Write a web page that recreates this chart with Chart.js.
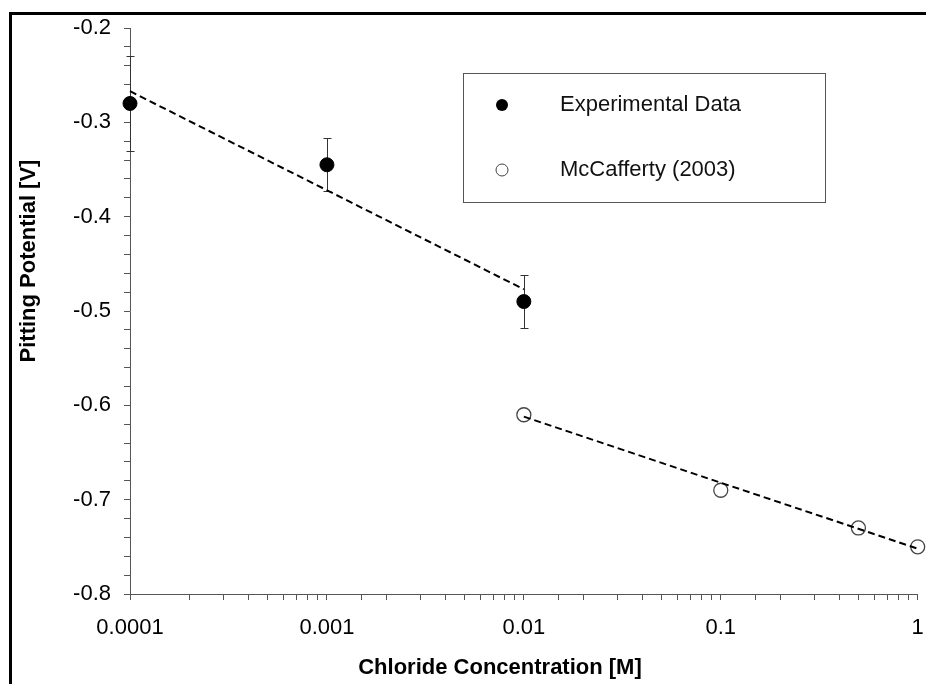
<!DOCTYPE html>
<html>
<head>
<meta charset="utf-8">
<script src="https://cdn.jsdelivr.net/npm/chart.js@4.4.1/dist/chart.umd.min.js"></script>
<style>
  html, body { margin: 0; padding: 0; background: #fff; }
  #grafico { display: block; }
</style>
</head>
<body>
<canvas id="grafico" width="926" height="684"></canvas>
<script>
// === DATOS ===
const concExperimental = [0.0001, 0.001, 0.01];
const potExperimental = [-0.28, -0.345, -0.49];
const errorExperimental = [0.05, 0.028, 0.028];

const concMcCafferty = [0.01, 0.1, 0.5, 1];
const potMcCafferty = [-0.61, -0.69, -0.73, -0.75];

// líneas de tendencia (extremos)
const tendExpX = [0.0001, 0.01];
const tendExpY = [-0.267, -0.477];
const tendMcX = [0.01, 1];
const tendMcY = [-0.612, -0.752];

const etiquetas = ['Experimental Data', 'McCafferty (2003)'];
const tituloX = 'Chloride Concentration [M]';
const tituloY = 'Pitting Potential [V]';

const FUENTE = "'Liberation Sans', Arial, sans-serif";
const GRIS = '#555';

const puntos = (xs, ys) => xs.map((x, i) => ({ x, y: ys[i] }));

// barras de error verticales para la serie experimental
const barrasError = {
  id: 'barrasError',
  beforeDatasetsDraw(chart) {
    const { ctx, scales: { x, y } } = chart;
    ctx.save();
    ctx.strokeStyle = '#333';
    ctx.lineWidth = 1;
    concExperimental.forEach((c, i) => {
      const px = Math.round(x.getPixelForValue(c)) + 0.5;
      const arriba = y.getPixelForValue(potExperimental[i] + errorExperimental[i]);
      const abajo = y.getPixelForValue(potExperimental[i] - errorExperimental[i]);
      ctx.beginPath();
      ctx.moveTo(px, arriba);
      ctx.lineTo(px, abajo);
      ctx.moveTo(px - 4, Math.round(arriba) + 0.5);
      ctx.lineTo(px + 4, Math.round(arriba) + 0.5);
      ctx.moveTo(px - 4, Math.round(abajo) + 0.5);
      ctx.lineTo(px + 4, Math.round(abajo) + 0.5);
      ctx.stroke();
    });
    ctx.restore();
  }
};

// leyenda dentro del área de trazado, títulos de ejes y marco exterior
const leyenda = {
  id: 'leyenda',
  afterDraw(chart) {
    const { ctx } = chart;
    ctx.save();
    ctx.fillStyle = '#fff';
    ctx.fillRect(463.5, 73.5, 362, 129);
    ctx.strokeStyle = GRIS;
    ctx.lineWidth = 1;
    ctx.strokeRect(463.5, 73.5, 362, 129);

    ctx.beginPath();
    ctx.arc(502, 105, 6, 0, Math.PI * 2);
    ctx.fillStyle = '#000';
    ctx.fill();

    ctx.beginPath();
    ctx.arc(502, 170, 6, 0, Math.PI * 2);
    ctx.strokeStyle = '#444';
    ctx.stroke();

    ctx.font = `22px ${FUENTE}`;
    ctx.fillStyle = '#111';
    ctx.textBaseline = 'middle';
    ctx.fillText(etiquetas[0], 560, 105);
    ctx.fillText(etiquetas[1], 560, 170);

    ctx.font = `bold 22px ${FUENTE}`;
    ctx.fillStyle = '#000';
    ctx.textAlign = 'center';
    ctx.fillText(tituloX, 500, 668);

    ctx.translate(29, 261);
    ctx.rotate(-Math.PI / 2);
    ctx.fillText(tituloY, 0, 0);
    ctx.restore();

    ctx.save();
    ctx.strokeStyle = '#000';
    ctx.lineWidth = 3;
    ctx.strokeRect(10.5, 13.5, 940, 700);
    ctx.restore();
  }
};

const esDecada = v => Math.abs(Math.log10(v) - Math.round(Math.log10(v))) < 1e-9;

const chart = new Chart(document.getElementById('grafico'), {
  type: 'scatter',
  data: {
    datasets: [
      {
        type: 'line',
        data: puntos(tendExpX, tendExpY),
        borderColor: '#000',
        borderWidth: 2,
        borderDash: [7, 4],
        pointRadius: 0,
        fill: false,
        clip: false,
        order: 0
      },
      {
        type: 'line',
        data: puntos(tendMcX, tendMcY),
        borderColor: '#000',
        borderWidth: 2,
        borderDash: [7, 4],
        pointRadius: 0,
        fill: false,
        clip: false,
        order: 0
      },
      {
        label: etiquetas[0],
        data: puntos(concExperimental, potExperimental),
        backgroundColor: '#000',
        borderColor: '#000',
        pointRadius: 7,
        clip: false,
        order: 1
      },
      {
        label: etiquetas[1],
        data: puntos(concMcCafferty, potMcCafferty),
        backgroundColor: 'rgba(255,255,255,0)',
        borderColor: '#444',
        borderWidth: 1.3,
        pointRadius: 7,
        clip: false,
        order: 1
      }
    ]
  },
  options: {
    responsive: false,
    animation: false,
    devicePixelRatio: 1,
    layout: { padding: { left: 10, top: 28, right: 5, bottom: 0 } },
    plugins: {
      legend: { display: false },
      tooltip: { enabled: false }
    },
    scales: {
      x: {
        type: 'logarithmic',
        min: 0.0001,
        max: 1,
        afterFit: s => {
          s.height = 90;
          s.paddingLeft = 0;
          s.paddingRight = 0;
        },
        border: { display: true, color: GRIS, width: 1 },
        grid: { drawOnChartArea: false, drawTicks: true, tickLength: 6, color: GRIS },
        ticks: {
          autoSkip: false,
          maxRotation: 0,
          padding: 15,
          color: '#000',
          font: { family: FUENTE, size: 22 },
          callback: v => (esDecada(v) ? String(Number(v.toPrecision(1))) : '')
        }
      },
      y: {
        min: -0.8,
        max: -0.2,
        afterFit: s => { s.width = 120; },
        border: { display: true, color: GRIS, width: 1 },
        grid: { drawOnChartArea: false, drawTicks: true, tickLength: 6, color: GRIS },
        ticks: {
          stepSize: 0.02,
          autoSkip: false,
          padding: 13,
          color: '#000',
          font: { family: FUENTE, size: 22 },
          callback: v => (Math.abs(v * 10 - Math.round(v * 10)) < 1e-6 ? v.toFixed(1) : '')
        }
      }
    }
  },
  plugins: [barrasError, leyenda]
});
</script>
</body>
</html>
